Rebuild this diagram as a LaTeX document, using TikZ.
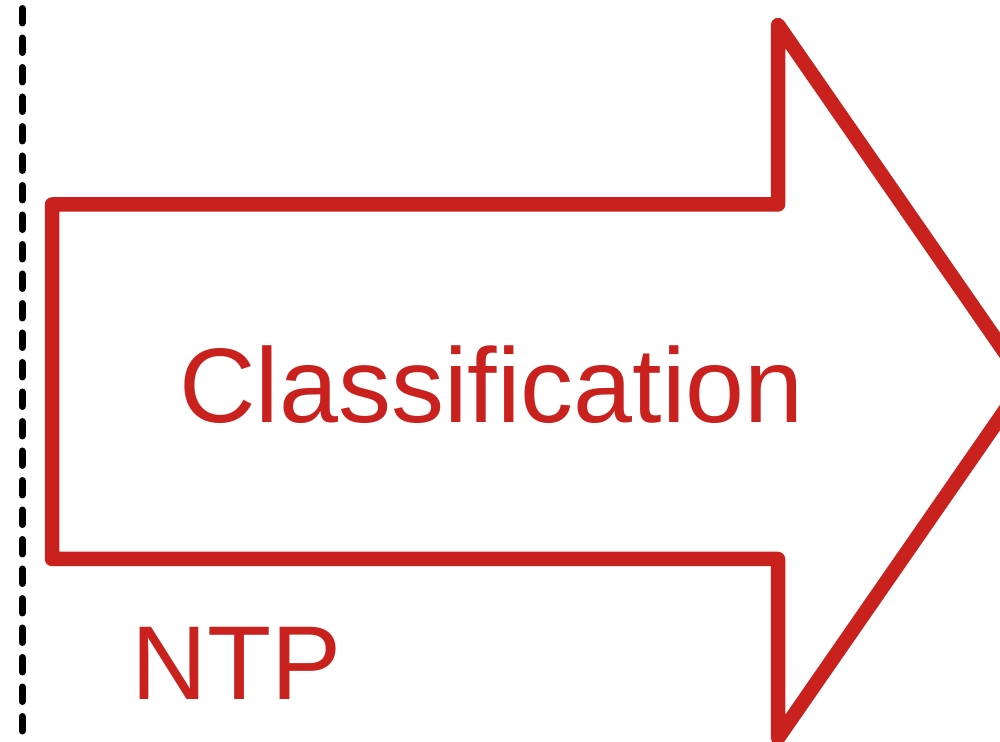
\documentclass[tikz,border=0pt]{standalone}
\usepackage{fontspec}
\setmainfont{Liberation Sans}
\definecolor{arrowred}{RGB}{201,33,30}
\begin{document}
\begin{tikzpicture}[x=1pt,y=1pt,
  outline/.style={draw=arrowred, line width=14.5pt, line join=round, line cap=round},
  divider/.style={draw=black, line width=7pt, line cap=round, dash pattern=on 14.5pt off 15pt},
  biglabel/.style={text=arrowred, inner sep=0pt, anchor=base west, font=\fontsize{106}{106}\selectfont},
  sidelabel/.style={text=arrowred, inner sep=0pt, anchor=base west, font=\fontsize{105}{105}\selectfont}]
  % page frame
  \clip (0,0) rectangle (1000,741);
  \useasboundingbox (0,0) rectangle (1000,741);
  % dashed divider on the left
  \coordinate (divtop) at (22,732.5);
  \coordinate (divbot) at (22,-20);
  \draw[divider] (divtop) -- (divbot);
  % block arrow outline
  \coordinate (a1) at (52,536.5);
  \coordinate (a2) at (778,536.5);
  \coordinate (a3) at (778,716);
  \coordinate (tip) at (1025,359.5);
  \coordinate (a5) at (778,3);
  \coordinate (a6) at (778,182);
  \coordinate (a7) at (52,182);
  \draw[outline] (a1) -- (a2) -- (a3) -- (tip) -- (a5) -- (a6) -- (a7) -- cycle;
  % labels
  \node[biglabel] (cls) at (179,318) {Classification};
  \node[sidelabel] (ntp) at (131,42) {NTP};
\end{tikzpicture}
\end{document}
